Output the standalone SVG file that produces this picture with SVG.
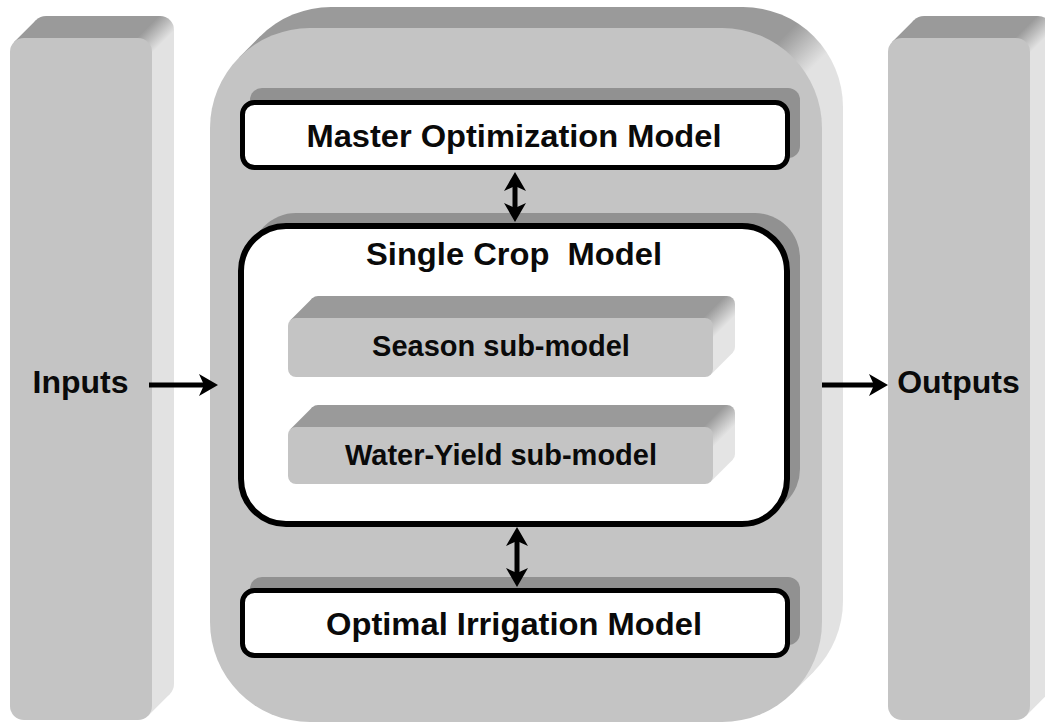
<svg xmlns="http://www.w3.org/2000/svg" width="1045" height="722" viewBox="0 0 1045 722">
<defs>
<style>
.front{fill:#c4c4c4}
.shadow{fill:#919191}
.box{fill:#fff;stroke:#000;stroke-width:5}
.lbl{font-family:"Liberation Sans",Arial,sans-serif;font-weight:bold;font-size:32px;fill:#0a0a0a;text-anchor:middle}
.sub{font-size:29px}
.conn{stroke:#000;stroke-width:5;fill:none}
</style>
<linearGradient id="gL" gradientUnits="userSpaceOnUse" x1="160" y1="15" x2="175" y2="30"><stop offset="0" stop-color="#9a9a9a"/><stop offset="1" stop-color="#e2e2e2"/></linearGradient>
<linearGradient id="gR" gradientUnits="userSpaceOnUse" x1="1038" y1="15" x2="1053" y2="30"><stop offset="0" stop-color="#9a9a9a"/><stop offset="1" stop-color="#e2e2e2"/></linearGradient>
<linearGradient id="gM" gradientUnits="userSpaceOnUse" x1="800" y1="20" x2="830" y2="50"><stop offset="0" stop-color="#9a9a9a"/><stop offset="1" stop-color="#e2e2e2"/></linearGradient>
<linearGradient id="gS" gradientUnits="userSpaceOnUse" x1="708" y1="313" x2="723" y2="328"><stop offset="0" stop-color="#9a9a9a"/><stop offset="1" stop-color="#e4e4e4"/></linearGradient>
<linearGradient id="gW" gradientUnits="userSpaceOnUse" x1="708" y1="422" x2="723" y2="437"><stop offset="0" stop-color="#9a9a9a"/><stop offset="1" stop-color="#e4e4e4"/></linearGradient>
<marker id="ah" viewBox="-20 -12 21 24" refX="-10" refY="0" markerWidth="21" markerHeight="24" markerUnits="userSpaceOnUse" orient="auto-start-reverse"><path d="M0,0 L-19,-11 L-14,0 L-19,11 Z" fill="#000"/></marker>
</defs>
<rect x="0" y="0" width="1045" height="722" fill="#fff"/>
<g id="inputs">
<g fill="url(#gL)">
<rect x="32" y="16" width="142" height="682" rx="14"/>
<polygon points="14.1,42.1 36.1,20.1 169.9,693.9 147.9,715.9"/>
</g>
<rect class="front" x="10" y="38" width="142" height="682" rx="14"/>
<text class="lbl" x="80.5" y="393">Inputs</text>
</g>
<g id="outputs">
<g fill="url(#gR)">
<rect x="910" y="16" width="142" height="682" rx="14"/>
<polygon points="892.1,42.1 914.1,20.1 1047.9,693.9 1025.9,715.9"/>
</g>
<rect class="front" x="888" y="38" width="142" height="682" rx="14"/>
<text class="lbl" x="958.5" y="393">Outputs</text>
</g>
<g id="framework">
<g fill="url(#gM)">
<rect x="231" y="7" width="612" height="694" rx="100"/>
<polygon points="239.3,57.3 260.3,36.3 813.7,671.7 792.7,692.7"/>
</g>
<rect class="front" x="210" y="28" width="612" height="694" rx="100"/>
</g>
<g id="master">
<rect class="shadow" x="250" y="88" width="550" height="70" rx="12"/>
<rect class="box" x="242.5" y="102.5" width="545" height="65" rx="12"/>
<text class="lbl" x="514" y="147" textLength="415" lengthAdjust="spacingAndGlyphs">Master Optimization Model</text>
</g>
<g id="single-crop">
<rect class="shadow" x="251" y="213" width="549" height="301" rx="45"/>
<rect class="box" x="241" y="226" width="546" height="298" rx="45" style="stroke-width:6"/>
<text class="lbl" x="514" y="265" style="white-space:pre" textLength="296" lengthAdjust="spacingAndGlyphs">Single Crop  Model</text>
</g>
<g id="season">
<g fill="url(#gS)">
<rect x="310" y="296" width="425" height="59" rx="8"/>
<polygon points="290.3,320.3 312.3,298.3 732.7,352.7 710.7,374.7"/>
</g>
<rect class="front" x="288" y="318" width="425" height="59" rx="8"/>
<text class="lbl sub" x="501" y="356">Season sub-model</text>
</g>
<g id="water-yield">
<g fill="url(#gW)">
<rect x="310" y="405" width="425" height="57" rx="8"/>
<polygon points="290.3,429.3 312.3,407.3 732.7,459.7 710.7,481.7"/>
</g>
<rect class="front" x="288" y="427" width="425" height="57" rx="8"/>
<text class="lbl sub" x="501" y="465">Water-Yield sub-model</text>
</g>
<g id="optimal-irrigation">
<rect class="shadow" x="250" y="577" width="550" height="68" rx="12"/>
<rect class="box" x="242.5" y="590.5" width="545" height="65" rx="12"/>
<text class="lbl" x="514" y="635" textLength="376" lengthAdjust="spacingAndGlyphs">Optimal Irrigation Model</text>
</g>
<g id="connectors">
<line class="conn" x1="149" y1="385" x2="208" y2="385" marker-end="url(#ah)"/>
<line class="conn" x1="822" y1="385" x2="878" y2="385" marker-end="url(#ah)"/>
<line class="conn" x1="515" y1="182" x2="515" y2="212" marker-start="url(#ah)" marker-end="url(#ah)"/>
<line class="conn" x1="517" y1="537" x2="517" y2="577" marker-start="url(#ah)" marker-end="url(#ah)"/>
</g>
</svg>
